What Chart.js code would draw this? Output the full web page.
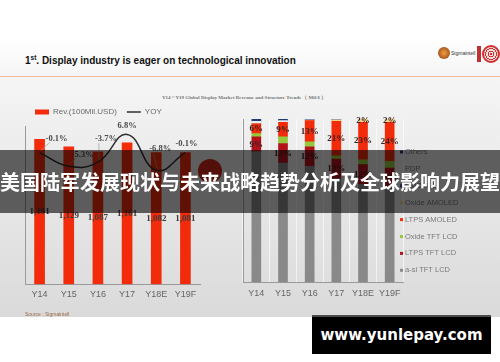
<!DOCTYPE html>
<html>
<head>
<meta charset="utf-8">
<script src="https://cdn.jsdelivr.net/npm/chart.js@4.4.1/dist/chart.umd.min.js"></script>
<style>
  html, body { margin: 0; padding: 0; width: 500px; height: 362px; overflow: hidden; background: #fff; }
  body { position: relative; font-family: "Liberation Sans", Arial, sans-serif; }
  #slide { position: absolute; left: 0; top: 38px; width: 500px; height: 279px;
    background: linear-gradient(#ffffff 0px, #f5f5f5 38px, #f3f3f3 55px, #dadada 279px); }
  #rule { position: absolute; left: 0; top: 76px; width: 500px; height: 1px; background: #f1b89e; }
  #title { position: absolute; left: 25px; top: 54px; font: bold 10px "Liberation Sans", Arial, sans-serif; color: #111; white-space: nowrap; }
  #title sup { font-size: 6.5px; }
  #logo-s { position: absolute; left: 438px; top: 47px; width: 12px; height: 12px; border-radius: 50%; background: radial-gradient(#f0a040, #8a3a10); }
  #logo-t { position: absolute; left: 451px; top: 50px; font: 5px "Liberation Sans", Arial, sans-serif; color: #333; }
  #logo-i { position: absolute; left: 477px; top: 46px; width: 4px; height: 16px; background: #c03030; }
  #logo-o { position: absolute; left: 482px; top: 45px; width: 14px; height: 14px; border-radius: 50%; border: 2px solid #d03030;
    background: repeating-radial-gradient(#d03030 0 1px, #f3dcdc 1px 2.5px); }
  #subtitle { position: absolute; left: 160px; top: 94px; width: 168px; text-align: center; font: bold 5px "Liberation Serif", serif; color: #777; white-space: nowrap; }
  #source { position: absolute; left: 25px; top: 311px; font: 5px "Liberation Sans", Arial, sans-serif; color: #9a6a4a; }
  #blob { position: absolute; left: 198px; top: 159px; width: 24px; height: 24px; border-radius: 50%; background: #d02a1a; }
  canvas { position: absolute; }
  #left { left: 0; top: 98px; }
  #right { left: 240px; top: 100px; }
  #banner { position: absolute; left: 0; top: 150px; width: 500px; height: 63px; background: rgba(0,0,0,0.6);
    color: #fff; font: bold 20px "Noto Sans CJK SC", sans-serif; line-height: 63px; text-align: center; white-space: nowrap; }
  #site { position: absolute; left: 312px; top: 315px; width: 179px; height: 39px; background: #000; border-top: 2px solid #4a4a4a;
    box-sizing: border-box; color: #fff; font: bold 15px "DejaVu Sans", sans-serif; line-height: 36px; text-align: center; }
</style>
</head>
<body>
<div id="slide"></div>
<div id="rule"></div>
<div id="title">1<sup>st</sup>. Display industry is eager on technological innovation</div>
<div id="logo-s"></div><div id="logo-t">Sigmaintell</div><div id="logo-i"></div><div id="logo-o"></div>
<div id="subtitle">Y14 ~ Y19 Global Display Market Revenue and Structure Trends （ Mil.$ ）</div>
<div id="blob"></div>
<canvas id="left" width="240" height="220"></canvas>
<canvas id="right" width="260" height="215"></canvas>
<div id="source">Source : Sigmaintell</div>
<div id="banner">美国陆军发展现状与未来战略趋势分析及全球影响力展望</div>
<div id="site">www.yunlepay.com</div>

<script>
// chart data
const years = ['Y14', 'Y15', 'Y16', 'Y17', 'Y18E', 'Y19F'];
const revenue = [1191, 1129, 1087, 1161, 1082, 1081];
const yoy = [-0.1, -5.3, -3.7, 6.8, -6.8, -0.1];

// share of revenue by technology (%)
const asiTft = [80, 73, 71, 63.5, 60, 58];
const ltpsTft = [9, 12, 12, 12, 12, 12];
const oxideTft = [2, 4, 3, 2, 3, 4];
const ltpsAmoled = [6, 9, 13, 21, 23, 24];
const oxideAmoled = [0, 0, 0, 1, 2, 2];
const pmoled = [0, 0, 0, 0, 0, 0];
const pdp = [1.5, 1, 0.5, 0, 0, 0];
const others = [1.5, 1, 0.5, 0.5, 0, 0];

// where the yoy labels sit relative to their point
const yoyLabelOffset = [[17, -14], [14, -12], [8, -23], [0, -9], [4, -21], [1, -9]];

Chart.defaults.font.family = '"Liberation Sans", Arial, sans-serif';
Chart.defaults.animation = false;

// revenue numbers in the middle of each bar
const revenueLabels = {
  id: 'revenueLabels',
  afterDatasetsDraw(chart) {
    const ctx = chart.ctx;
    const meta = chart.getDatasetMeta(0);
    ctx.save();
    ctx.font = 'bold 9px "Liberation Serif", serif';
    ctx.fillStyle = '#3a3a3a';
    ctx.textAlign = 'center';
    ctx.textBaseline = 'middle';
    meta.data.forEach((bar, i) => {
      ctx.fillText(revenue[i].toLocaleString('en-US'), bar.x, (bar.y + bar.base) / 2);
    });
    ctx.restore();
  }
};

// yoy labels with little leader lines
const yoyLabels = {
  id: 'yoyLabels',
  afterDatasetsDraw(chart) {
    const ctx = chart.ctx;
    const meta = chart.getDatasetMeta(1);
    ctx.save();
    ctx.font = 'bold 8.5px "Liberation Serif", serif';
    ctx.textAlign = 'center';
    ctx.textBaseline = 'middle';
    meta.data.forEach((pt, i) => {
      const [dx, dy] = yoyLabelOffset[i];
      const lx = pt.x + dx, ly = pt.y + dy;
      if (Math.abs(dy) > 10) {
        ctx.strokeStyle = '#a0a0a0';
        ctx.lineWidth = 0.7;
        ctx.beginPath();
        ctx.moveTo(pt.x + 1, pt.y - 2);
        ctx.lineTo(lx - 7, ly + 4);
        ctx.stroke();
      }
      ctx.fillStyle = '#4a4a4a';
      ctx.fillText(yoy[i].toFixed(1) + '%', lx, ly);
    });
    ctx.restore();
  }
};

new Chart(document.getElementById('left'), {
  data: {
    labels: years,
    datasets: [
      {
        type: 'bar',
        label: 'Rev.(100Mil.USD)',
        data: revenue,
        backgroundColor: '#f22b0a',
        barThickness: 10,
        pointStyle: 'rect',
        yAxisID: 'y',
        order: 2
      },
      {
        type: 'line',
        label: 'YOY',
        data: yoy,
        borderColor: '#2e2e2e',
        backgroundColor: '#2e2e2e',
        borderWidth: 1.5,
        tension: 0.45,
        pointRadius: 0,
        pointStyle: 'line',
        yAxisID: 'y1',
        order: 1
      }
    ]
  },
  options: {
    responsive: false,
    layout: { padding: { left: 25, right: 40, top: 0, bottom: 13 } },
    plugins: {
      legend: {
        align: 'start',
        labels: {
          usePointStyle: true,
          pointStyleWidth: 14,
          boxHeight: 5,
          padding: 10,
          color: '#6a6a6a',
          font: { size: 8 },
          sort: (a, b) => a.datasetIndex - b.datasetIndex
        }
      },
      tooltip: { enabled: false }
    },
    scales: {
      x: {
        grid: { display: false, drawTicks: false },
        border: { color: '#9a9a9a' },
        ticks: { color: '#666', font: { size: 9 }, padding: 5, maxRotation: 0, autoSkip: false }
      },
      y: {
        min: 0,
        max: 1300,
        grid: { display: false, drawTicks: false },
        border: { color: '#9a9a9a' },
        ticks: { display: false },
        afterFit(scale) { scale.width = 0; }
      },
      y1: {
        min: -50,
        max: 10,
        display: false
      }
    }
  },
  plugins: [revenueLabels, yoyLabels]
});

// percentage labels inside the stacked segments
const labelledSeries = ['LTPS AMOLED', 'LTPS TFT LCD', 'Oxide AMOLED'];
const shareLabels = {
  id: 'shareLabels',
  afterDatasetsDraw(chart) {
    const ctx = chart.ctx;
    ctx.save();
    ctx.font = 'bold 9px "Liberation Serif", serif';
    ctx.fillStyle = '#3a2222';
    ctx.textAlign = 'center';
    ctx.textBaseline = 'middle';
    chart.data.datasets.forEach((ds, di) => {
      if (!labelledSeries.includes(ds.label)) return;
      chart.getDatasetMeta(di).data.forEach((bar, i) => {
        const v = ds.data[i];
        if (v < 2) return;
        ctx.fillText(Math.round(v) + '%', bar.x, (bar.y + bar.base) / 2);
      });
    });
    ctx.restore();
  }
};

// legend on the right, top item = top of the stack
const sideLegend = {
  id: 'sideLegend',
  afterDraw(chart) {
    const ctx = chart.ctx;
    const x = chart.chartArea.right - 3;
    let y = 52;
    ctx.save();
    ctx.font = '7.5px "Liberation Sans", Arial, sans-serif';
    ctx.textBaseline = 'middle';
    chart.data.datasets.slice().reverse().forEach(ds => {
      ctx.fillStyle = ds.backgroundColor;
      ctx.fillRect(x, y - 1.5, 3, 3);
      ctx.fillStyle = '#7a7a7a';
      ctx.fillText(ds.label, x + 5, y);
      y += 16.9;
    });
    ctx.restore();
  }
};

new Chart(document.getElementById('right'), {
  type: 'bar',
  data: {
    labels: years,
    datasets: [
      { label: 'a-si TFT LCD', data: asiTft, backgroundColor: '#898989' },
      { label: 'LTPS TFT LCD', data: ltpsTft, backgroundColor: '#b3121a' },
      { label: 'Oxide TFT LCD', data: oxideTft, backgroundColor: '#94c83d' },
      { label: 'LTPS AMOLED', data: ltpsAmoled, backgroundColor: '#f22b0a' },
      { label: 'Oxide AMOLED', data: oxideAmoled, backgroundColor: '#f4d48a' },
      { label: 'PMOLED', data: pmoled, backgroundColor: '#5a4a8a' },
      { label: 'PDP', data: pdp, backgroundColor: '#e4edf6' },
      { label: 'Others', data: others, backgroundColor: '#203c72' }
    ]
  },
  options: {
    responsive: false,
    barThickness: 9,
    layout: { padding: { left: 3, right: 97, top: 19, bottom: 10 } },
    plugins: {
      legend: { display: false },
      tooltip: { enabled: false }
    },
    scales: {
      x: {
        stacked: true,
        grid: { display: true, offset: true, drawTicks: false, color: 'rgba(255,255,255,0.6)' },
        border: { color: '#9a9a9a' },
        ticks: { color: '#666', font: { size: 9 }, padding: 6, maxRotation: 0, autoSkip: false }
      },
      y: {
        stacked: true,
        min: 0,
        max: 100,
        grid: { display: false, drawTicks: false },
        border: { color: '#9a9a9a' },
        ticks: { display: false },
        afterFit(scale) { scale.width = 0; }
      }
    }
  },
  plugins: [shareLabels, sideLegend]
});
</script>
</body>
</html>
